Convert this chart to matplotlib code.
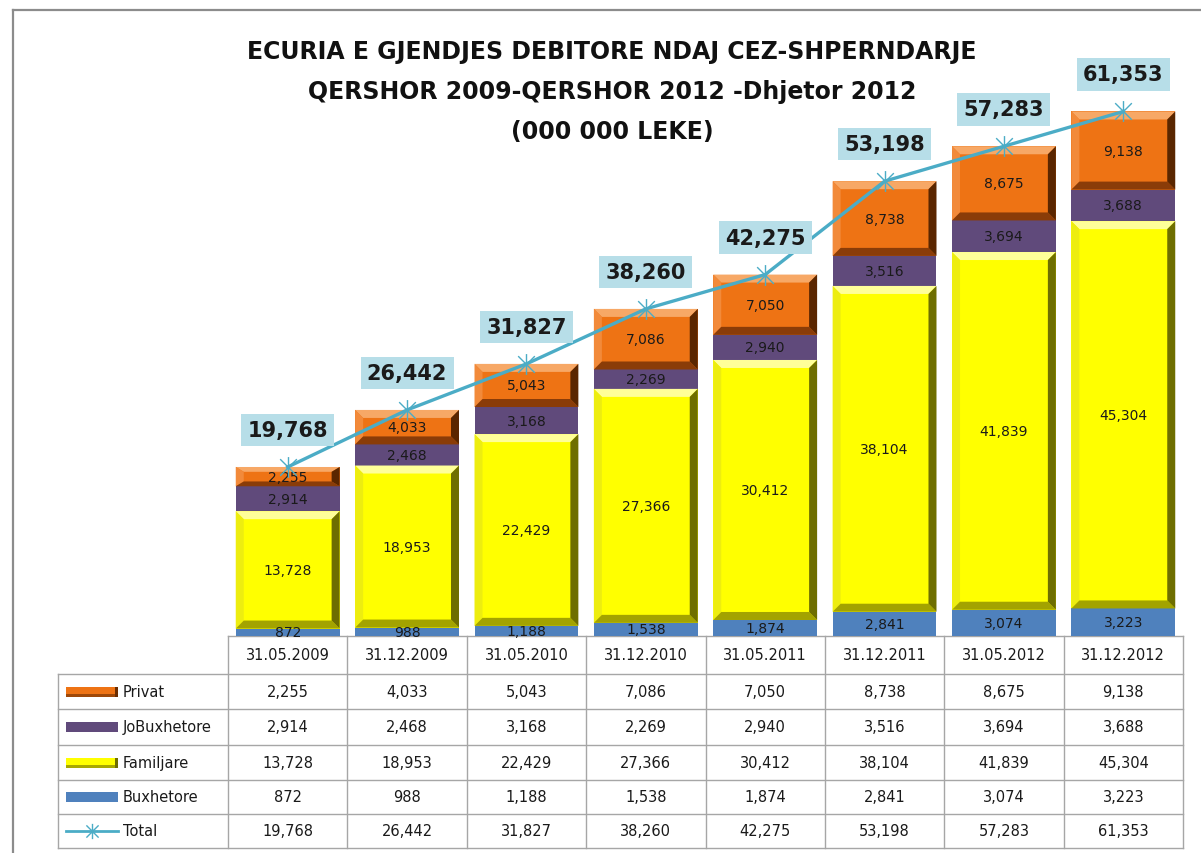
import matplotlib
matplotlib.use('Agg')
import matplotlib.pyplot as plt
from matplotlib.patches import Polygon, Rectangle
from matplotlib.path import Path
import numpy as np

dates = ['31.05.2009', '31.12.2009', '31.05.2010', '31.12.2010',
         '31.05.2011', '31.12.2011', '31.05.2012', '31.12.2012']
buxhetore = [872, 988, 1188, 1538, 1874, 2841, 3074, 3223]
familjare = [13728, 18953, 22429, 27366, 30412, 38104, 41839, 45304]
jobuxhetore = [2914, 2468, 3168, 2269, 2940, 3516, 3694, 3688]
privat = [2255, 4033, 5043, 7086, 7050, 8738, 8675, 9138]
total = [19768, 26442, 31827, 38260, 42275, 53198, 57283, 61353]

W, H = 1201, 854
# pixel layout of the plot / table
X_LEFT, X_RIGHT = 228, 1183
Y_BASE, Y_TOP = 637, 30
YMAX = 71000
ROWS = [637, 675, 710, 746, 781, 815, 849]

STAR = Path([(0, -1), (0, 1), (-0.8, -0.8), (0.8, 0.8), (-0.8, 0.8), (0.8, -0.8)],
            [Path.MOVETO, Path.LINETO, Path.MOVETO, Path.LINETO, Path.MOVETO, Path.LINETO])


def fmt(v):
  return f"{v:,}"


def add_bevel(ax, bars, light, left, dark, right, bx, by):
  for b in bars:
    x0, y0 = b.get_x(), b.get_y()
    x1, y1 = x0 + b.get_width(), y0 + b.get_height()
    dy = min(by, b.get_height() / 4)
    ax.add_patch(Polygon([(x0, y1), (x1, y1), (x1 - bx, y1 - dy), (x0 + bx, y1 - dy)],
                         fc=light, ec='none', zorder=2.1))
    ax.add_patch(Polygon([(x0, y0), (x0, y1), (x0 + bx, y1 - dy), (x0 + bx, y0 + dy)],
                         fc=left, ec='none', zorder=2.1))
    ax.add_patch(Polygon([(x0, y0), (x1, y0), (x1 - bx, y0 + dy), (x0 + bx, y0 + dy)],
                         fc=dark, ec='none', zorder=2.1))
    ax.add_patch(Polygon([(x1, y0), (x1, y1), (x1 - bx, y1 - dy), (x1 - bx, y0 + dy)],
                         fc=right, ec='none', zorder=2.1))


fig = plt.figure(figsize=(W / 100, H / 100), dpi=100)
fig.patch.set_facecolor('white')

ax = fig.add_axes([X_LEFT / W, (H - Y_BASE) / H, (X_RIGHT - X_LEFT) / W, (Y_BASE - Y_TOP) / H])
ax.set_xlim(-0.5, len(dates) - 0.5)
ax.set_ylim(0, YMAX)
ax.axis('off')

x = np.arange(len(dates))
bw = 0.87
colw_px = (X_RIGHT - X_LEFT) / len(dates)
bx = 8 / colw_px
by = 8 * YMAX / (Y_BASE - Y_TOP)

b1 = ax.bar(x, buxhetore, bw, color='#4F81BD', zorder=2)
bottom = np.array(buxhetore)
b2 = ax.bar(x, familjare, bw, bottom=bottom, color='#FFFF00', zorder=2)
add_bevel(ax, b2, '#FFFF99', '#EDED10', '#A3A300', '#6E6E00', bx, by)
bottom = bottom + np.array(familjare)
b3 = ax.bar(x, jobuxhetore, bw, bottom=bottom, color='#604A7B', zorder=2)
bottom = bottom + np.array(jobuxhetore)
b4 = ax.bar(x, privat, bw, bottom=bottom, color='#EE7314', zorder=2)
add_bevel(ax, b4, '#F7A866', '#F28A3A', '#8A3C08', '#5A2600', bx, by)

for bars, vals in [(b1, buxhetore), (b2, familjare), (b3, jobuxhetore), (b4, privat)]:
  for b, v in zip(bars, vals):
    ax.text(b.get_x() + b.get_width() / 2, b.get_y() + b.get_height() / 2, fmt(v),
            ha='center', va='center', fontsize=10, color='#1a1a1a', zorder=3)

ax.plot(x, total, color='#4BACC6', lw=2.4, marker=STAR, markersize=15,
        markeredgewidth=1.0, markeredgecolor='#4BACC6', zorder=4)
for xi, t in zip(x, total):
  ax.annotate(fmt(t), (xi, t), xytext=(0, 37), textcoords='offset pixels',
              ha='center', va='center', fontsize=15, fontweight='bold', color='#1a1a1a',
              bbox=dict(boxstyle='square,pad=0.3', fc='#B7DEE8', ec='none'), zorder=5)

# overlay axes in pixel coordinates for frame, title and table
tx = fig.add_axes([0, 0, 1, 1], zorder=-1)
tx.set_xlim(0, W)
tx.set_ylim(H, 0)
tx.axis('off')
tx.plot([13, W], [11, 11], color='#8c8c8c', lw=1.6)
tx.plot([13, 13], [11, H], color='#8c8c8c', lw=1.6)

title = ['ECURIA E GJENDJES DEBITORE NDAJ CEZ-SHPERNDARJE',
         'QERSHOR 2009-QERSHOR 2012 -Dhjetor 2012',
         '(000 000 LEKE)']
for i, line in enumerate(title):
  fig.text(612 / W, 1 - (52 + 40 * i) / H, line, ha='center', va='center',
           fontsize=17, fontweight='bold', color='#111111')

grid = dict(color='#a6a6a6', lw=1.0)
cols = [X_LEFT + i * colw_px for i in range(len(dates) + 1)]
tx.plot([X_LEFT, X_RIGHT], [ROWS[0], ROWS[0]], **grid)
for r in ROWS[1:]:
  tx.plot([58, X_RIGHT], [r, r], **grid)
tx.plot([58, 58], [ROWS[1], ROWS[-1]], **grid)
for c in cols:
  tx.plot([c, c], [ROWS[0], ROWS[-1]], **grid)

rows = [('Privat', privat), ('JoBuxhetore', jobuxhetore), ('Familjare', familjare),
        ('Buxhetore', buxhetore), ('Total', total)]
for j, d in enumerate(dates):
  tx.text(cols[j] + colw_px / 2, (ROWS[0] + ROWS[1]) / 2, d, ha='center', va='center',
          fontsize=10.5, color='#1a1a1a')
for i, (name, vals) in enumerate(rows):
  yc = (ROWS[i + 1] + ROWS[i + 2]) / 2
  tx.text(123, yc, name, ha='left', va='center', fontsize=10.5, color='#1a1a1a')
  for j, v in enumerate(vals):
    tx.text(cols[j] + colw_px / 2, yc, fmt(v), ha='center', va='center',
            fontsize=10.5, color='#1a1a1a')

# legend keys
keys = [('#EE7314', '#6b2c00'), ('#604A7B', None), ('#FFFF00', '#6E6E00'), ('#4F81BD', None)]
for i, (fc, ec) in enumerate(keys):
  yc = (ROWS[i + 1] + ROWS[i + 2]) / 2
  tx.add_patch(Rectangle((66, yc - 5), 52, 10, fc=fc, ec='none'))
  if ec:
    tx.add_patch(Rectangle((66, yc + 2), 52, 3, fc=ec, ec='none', alpha=0.6))
    tx.add_patch(Rectangle((115, yc - 5), 3, 10, fc=ec, ec='none'))
yc = (ROWS[5] + ROWS[6]) / 2
tx.plot([66, 118], [yc, yc], color='#4BACC6', lw=2)
tx.plot([92], [yc], marker=STAR, markersize=11, markeredgecolor='#4BACC6',
        markeredgewidth=1, color='#4BACC6')

fig.savefig('out.png', dpi=100)
plt.close(fig)
